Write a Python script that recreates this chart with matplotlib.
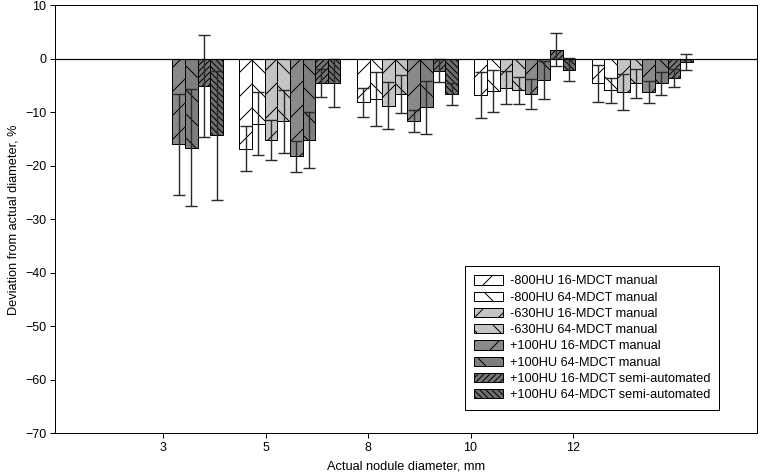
import numpy as np
import matplotlib.pyplot as plt

plt.rcParams['font.family'] = ['Liberation Sans', 'DejaVu Sans']
plt.rcParams['hatch.linewidth'] = 1.0

nan = np.nan
sizes = ['3', '5', '8', '10', '12']
labels = ['-800HU 16-MDCT manual', '-800HU 64-MDCT manual',
          '-630HU 16-MDCT manual', '-630HU 64-MDCT manual',
          '+100HU 16-MDCT manual', '+100HU 64-MDCT manual',
          '+100HU 16-MDCT semi-automated', '+100HU 64-MDCT semi-automated']

# mean deviation (%) and SD per nodule size
m800_16 = [nan, -16.8, -8.1, -6.7, -4.6]
s800_16 = [nan, 4.2, 2.7, 4.3, 3.5]
m800_64 = [nan, -12.1, -7.5, -6.0, -5.9]
s800_64 = [nan, 5.9, 5.1, 3.9, 2.4]
m630_16 = [nan, -15.2, -8.8, -5.4, -6.2]
s630_16 = [nan, 3.8, 4.4, 3.1, 3.3]
m630_64 = [nan, -11.7, -6.6, -5.9, -4.6]
s630_64 = [nan, 5.9, 3.6, 2.5, 2.7]
m100_16 = [-16.0, -18.2, -11.6, -6.6, -6.2]
s100_16 = [9.5, 2.9, 2.1, 2.8, 2.1]
m100_64 = [-16.6, -15.2, -9.1, -4.0, -4.6]
s100_64 = [11.0, 5.2, 5.0, 3.5, 2.1]
m100_16s = [-5.1, -4.5, -2.2, 1.7, -3.6]
s100_16s = [9.6, 2.6, 2.2, 3.1, 1.7]
m100_64s = [-14.3, -4.5, -6.6, -2.0, -0.6]
s100_64s = [12.0, 4.5, 2.0, 2.2, 1.5]

means = [m800_16, m800_64, m630_16, m630_64, m100_16, m100_64, m100_16s, m100_64s]
sds = [s800_16, s800_64, s630_16, s630_64, s100_16, s100_64, s100_16s, s100_64s]
colors = ['white', 'white', '#c4c4c4', '#c4c4c4', '#8a8a8a', '#7e7e7e', '#767676', '#6e6e6e']
hatches = ['/', '\\', '/', '\\', '/', '\\', '////', '\\\\\\\\']

fig = plt.figure(figsize=(761 / 72, 475 / 72), dpi=72)
ax = fig.add_axes([55 / 761, 1 - 433.3 / 475, 702 / 761, 428 / 475])

tick_x = np.arange(len(sizes))
group_start = -0.40
group_step = 1.146
bar_w = 0.123

for k in range(len(labels)):
    x = group_start + tick_x * group_step + (k + 0.5) * bar_w
    ax.bar(x, means[k], bar_w, color=colors[k], edgecolor='black', hatch=hatches[k],
           linewidth=1.0, label=labels[k], zorder=2)
    ax.errorbar(x, means[k], yerr=sds[k], fmt='none', ecolor='#2a2a2a',
                elinewidth=1.4, capsize=6.3, capthick=1.4, zorder=3)

ax.axhline(0, color='black', lw=1.2, zorder=4)

ax.set_xlim(-1.054, 5.795)
ax.set_ylim(-70, 10)
ax.set_xticks(tick_x)
ax.set_xticklabels(sizes)
ax.set_yticks(np.arange(-70, 11, 10))
ax.tick_params(direction='out', length=5, width=1, labelsize=12.5, colors='black')
for sp in ax.spines.values():
    sp.set_linewidth(1)

ax.set_ylabel('Deviation from actual diameter, %', fontsize=12.8, labelpad=6)
ax.set_xlabel('Actual nodule diameter, mm', fontsize=12.8, labelpad=7)

leg = ax.legend(loc='lower right', bbox_to_anchor=(0.946, 0.054), fontsize=12.8,
                frameon=True, fancybox=False, framealpha=1, edgecolor='black',
                borderaxespad=0, handlelength=2.27, handleheight=0.75,
                labelspacing=0.32, handletextpad=0.55, borderpad=0.7)
leg.get_frame().set_linewidth(1)

fig.savefig('out.png', dpi=72)
